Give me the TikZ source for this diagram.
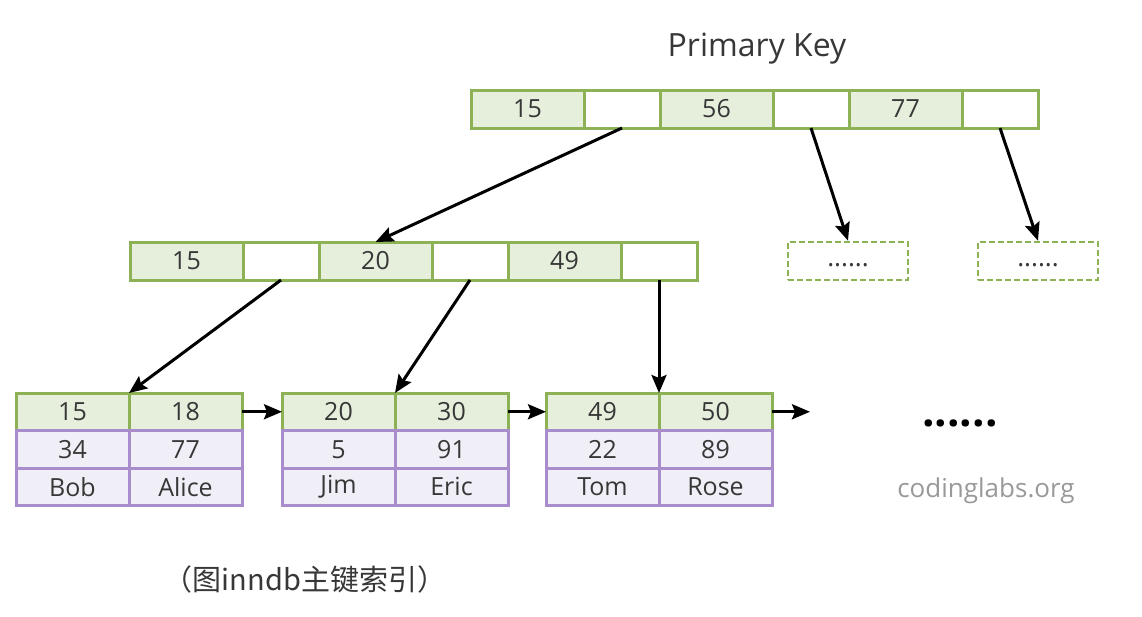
\documentclass[tikz,border=0pt]{standalone}
\usepackage{fontspec}
\setmainfont{Open Sans}
\newfontfamily\cjkfont{Noto Sans CJK SC}
\usetikzlibrary{arrows.meta,positioning}
\definecolor{keygreen}{RGB}{140,178,85}
\definecolor{keyfill}{RGB}{229,239,219}
\definecolor{rowpurple}{RGB}{168,140,204}
\definecolor{rowfill}{RGB}{240,238,246}
\definecolor{inktext}{RGB}{55,55,55}
\begin{document}
\begin{tikzpicture}[x=1pt,y=-1pt,
        cell/.style={line width=3pt,inner sep=0pt,outer sep=0pt,minimum height=38pt,text=inktext,font=\fontsize{25}{25}\selectfont},
        keycell/.style={cell,draw=keygreen,fill=keyfill,minimum width=113pt},
        ptrcell/.style={cell,draw=keygreen,fill=white,minimum width=76pt},
        rowcell/.style={cell,draw=rowpurple,fill=rowfill,minimum width=113pt,minimum height=37.5pt},
        leafkey/.style={keycell,minimum height=37.5pt},
        todo/.style={draw=keygreen,line width=2.5pt,dash pattern=on 6pt off 3pt,minimum width=120pt,minimum height=38pt,inner sep=0pt},
        link/.style={line width=3pt,-{Stealth[length=18pt,width=15pt,inset=3pt]}}]
    \useasboundingbox (0,0) rectangle (1142,616);
    % root
    \node[font=\fontsize{32}{32}\selectfont,text=inktext] (pk) at (757,49) {Primary Key};
    \node[keycell] (t1) at (527.5,109) {15};
    \node[ptrcell,right=0pt of t1] (t2) {};
    \node[keycell,right=0pt of t2] (t3) {56};
    \node[ptrcell,right=0pt of t3] (t4) {};
    \node[keycell,right=0pt of t4] (t5) {77};
    \node[ptrcell,right=0pt of t5] (t6) {};
    % second level
    \node[keycell] (m1) at (186.5,261) {15};
    \node[ptrcell,right=0pt of m1] (m2) {};
    \node[keycell,right=0pt of m2] (m3) {20};
    \node[ptrcell,right=0pt of m3] (m4) {};
    \node[keycell,right=0pt of m4] (m5) {49};
    \node[ptrcell,right=0pt of m5] (m6) {};
    \node[todo] (d1) at (848,261) {};
    \node[todo] (d2) at (1038,261) {};
    \node[font=\fontsize{26}{26}\selectfont,text=inktext] (d1dots) at ([yshift=-4pt]d1) {......};
    \node[font=\fontsize{26}{26}\selectfont,text=inktext] (d2dots) at ([yshift=-4pt]d2) {......};
    % leaves
    \node[leafkey] (a1) at (72.5,411.75) {15};
    \node[leafkey,right=0pt of a1] (a2) {18};
    \node[rowcell,below=0pt of a1] (a3) {34};
    \node[rowcell,right=0pt of a3] (a4) {77};
    \node[rowcell,below=0pt of a3] (a5) {Bob};
    \node[rowcell,right=0pt of a5] (a6) {Alice};
    \node[leafkey] (b1) at (338.5,411.75) {20};
    \node[leafkey,right=0pt of b1] (b2) {30};
    \node[rowcell,below=0pt of b1] (b3) {5};
    \node[rowcell,right=0pt of b3] (b4) {91};
    \node[rowcell,below=0pt of b3] (b5) {Jim};
    \node[rowcell,right=0pt of b5] (b6) {Eric};
    \node[leafkey] (c1) at (602.5,411.75) {49};
    \node[leafkey,right=0pt of c1] (c2) {50};
    \node[rowcell,below=0pt of c1] (c3) {22};
    \node[rowcell,right=0pt of c3] (c4) {89};
    \node[rowcell,below=0pt of c3] (c5) {Tom};
    \node[rowcell,right=0pt of c5] (c6) {Rose};
    \coordinate (next) at (810,411.75);
    \node[font=\bfseries\fontsize{44}{44}\selectfont] (more) at (960,423) {......};
    \node[text=gray!80,font=\fontsize{26}{26}\selectfont] (site) at (986,491) {codinglabs.org};
    \node[text=inktext,font=\cjkfont\fontsize{29}{29}\selectfont] (cap) at (305,579) {（图inndb主键索引）};
    % pointers
    \draw[link] (t2.south) -- (m3.north);
    \draw[link] (t4.south) -- (d1.north);
    \draw[link] (t6.south) -- (d2.north);
    \draw[link] (m2.south) -- (a1.north east);
    \draw[link] (m4.south) -- (b1.north east);
    \draw[link] (m6.south) -- (c1.north east);
    \draw[link] (a2.east) -- (b1.west);
    \draw[link] (b2.east) -- (c1.west);
    \draw[link] (c2.east) -- (next);
\end{tikzpicture}
\end{document}
